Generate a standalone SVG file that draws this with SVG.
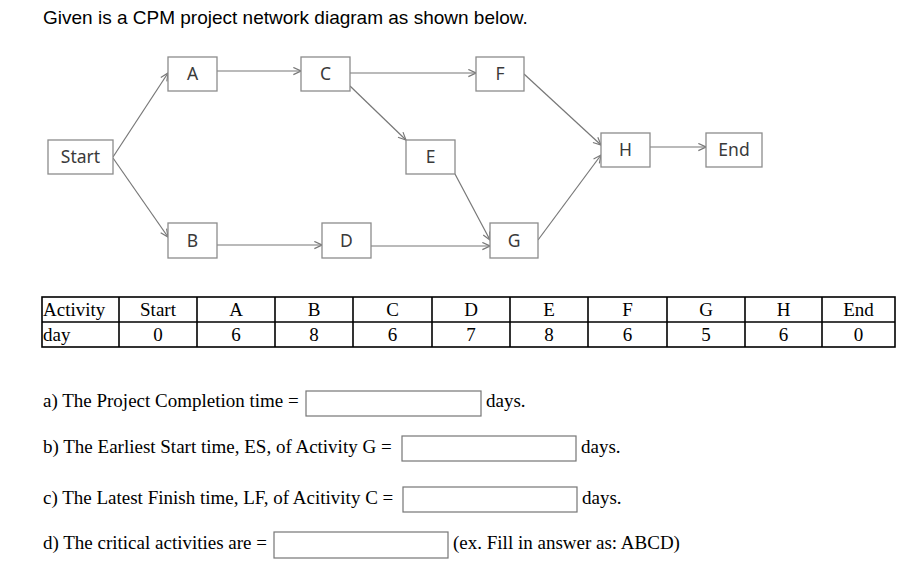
<svg xmlns="http://www.w3.org/2000/svg" width="912" height="577" viewBox="0 0 912 577">
<defs>
<style>
.title{font-family:"Liberation Sans",Arial,sans-serif;font-size:19px;fill:#000}
.node rect{fill:#fff;stroke:#8c8c8c;stroke-width:1.3}
.node text{font-family:"Noto Sans","Open Sans",sans-serif;font-size:17.5px;fill:#3a3a3a;text-anchor:middle}
.conn line{stroke:#777;stroke-width:1.2;marker-end:url(#arr)}
.tb{font-family:"Liberation Serif","Times New Roman",serif;font-size:19px;fill:#000}
.tc{text-anchor:middle}
.grid line,.grid rect{stroke:#000;stroke-width:1.6;fill:none}
.q{font-family:"Liberation Serif","Times New Roman",serif;font-size:19px;fill:#000}
.box{fill:#fff;stroke:#767676;stroke-width:1.2}
</style>
<marker id="arr" viewBox="0 0 10 10" refX="9.5" refY="5" markerWidth="9" markerHeight="9" markerUnits="userSpaceOnUse" orient="auto">
<path d="M1,1 L9.5,5 L1,9" fill="none" stroke="#777" stroke-width="1.3"/>
</marker>
</defs>
<rect width="912" height="577" fill="#fff"/>
<text class="title" x="43" y="24">Given is a CPM project network diagram as shown below.</text>

<g id="connectors" class="conn">
<line x1="113" y1="157" x2="168" y2="73"/>
<line x1="113" y1="158" x2="168" y2="237"/>
<line x1="217" y1="71" x2="301" y2="71"/>
<line x1="350" y1="73" x2="476" y2="73"/>
<line x1="350" y1="86" x2="406" y2="140"/>
<line x1="217" y1="245" x2="322" y2="245"/>
<line x1="371" y1="246" x2="490" y2="246"/>
<line x1="455" y1="174" x2="490" y2="240"/>
<line x1="524" y1="74" x2="601" y2="145"/>
<line x1="538" y1="240" x2="601" y2="155"/>
<line x1="650" y1="147" x2="706" y2="147"/>
</g>

<g id="node-start" class="node"><rect x="48" y="140" width="65" height="34"/><text x="80.5" y="163">Start</text></g>
<g id="node-a" class="node"><rect x="168" y="57" width="49" height="34"/><text x="192.5" y="80">A</text></g>
<g id="node-b" class="node"><rect x="168" y="223" width="49" height="35"/><text x="192.5" y="247">B</text></g>
<g id="node-c" class="node"><rect x="301" y="57" width="49" height="34"/><text x="325.5" y="80">C</text></g>
<g id="node-d" class="node"><rect x="322" y="223" width="49" height="35"/><text x="346.5" y="247">D</text></g>
<g id="node-e" class="node"><rect x="406" y="140" width="49" height="34"/><text x="430.5" y="163">E</text></g>
<g id="node-f" class="node"><rect x="476" y="57" width="48" height="34"/><text x="500" y="80">F</text></g>
<g id="node-g" class="node"><rect x="490" y="223" width="48" height="35"/><text x="514" y="247">G</text></g>
<g id="node-h" class="node"><rect x="601" y="133" width="49" height="34"/><text x="625.5" y="156">H</text></g>
<g id="node-end" class="node"><rect x="706" y="133" width="56" height="34"/><text x="734" y="156">End</text></g>

<g id="table">
<g class="grid">
<rect x="42" y="297" width="853" height="50"/>
<line x1="42" y1="322" x2="895" y2="322"/>
<line x1="119" y1="297" x2="119" y2="347"/>
<line x1="197" y1="297" x2="197" y2="347"/>
<line x1="275" y1="297" x2="275" y2="347"/>
<line x1="353" y1="297" x2="353" y2="347"/>
<line x1="432" y1="297" x2="432" y2="347"/>
<line x1="510" y1="297" x2="510" y2="347"/>
<line x1="588" y1="297" x2="588" y2="347"/>
<line x1="667" y1="297" x2="667" y2="347"/>
<line x1="745" y1="297" x2="745" y2="347"/>
<line x1="822" y1="297" x2="822" y2="347"/>
</g>
<text class="tb" x="43" y="316">Activity</text>
<text class="tb" x="43" y="341">day</text>
<g class="tb tc">
<text x="158" y="316">Start</text><text x="158" y="341">0</text>
<text x="236" y="316">A</text><text x="236" y="341">6</text>
<text x="314" y="316">B</text><text x="314" y="341">8</text>
<text x="392.5" y="316">C</text><text x="392.5" y="341">6</text>
<text x="471" y="316">D</text><text x="471" y="341">7</text>
<text x="549" y="316">E</text><text x="549" y="341">8</text>
<text x="627.5" y="316">F</text><text x="627.5" y="341">6</text>
<text x="706" y="316">G</text><text x="706" y="341">5</text>
<text x="783.5" y="316">H</text><text x="783.5" y="341">6</text>
<text x="858.5" y="316">End</text><text x="858.5" y="341">0</text>
</g>
</g>

<g id="questions">
<text class="q" x="43" y="407">a) The Project Completion time =</text>
<rect class="box" x="306" y="391" width="175" height="25"/>
<text class="q" x="486" y="407">days.</text>

<text class="q" x="43" y="453">b) The Earliest Start time, ES, of Activity G =</text>
<rect class="box" x="402" y="436" width="174" height="25"/>
<text class="q" x="581" y="453">days.</text>

<text class="q" x="43" y="504">c) The Latest Finish time, LF, of Acitivity C =</text>
<rect class="box" x="403" y="487" width="174" height="25"/>
<text class="q" x="582" y="504">days.</text>

<text class="q" x="43" y="549">d) The critical activities are =</text>
<rect class="box" x="274" y="532" width="174" height="26"/>
<text class="q" x="453" y="549">(ex. Fill in answer as: ABCD)</text>
</g>
</svg>
